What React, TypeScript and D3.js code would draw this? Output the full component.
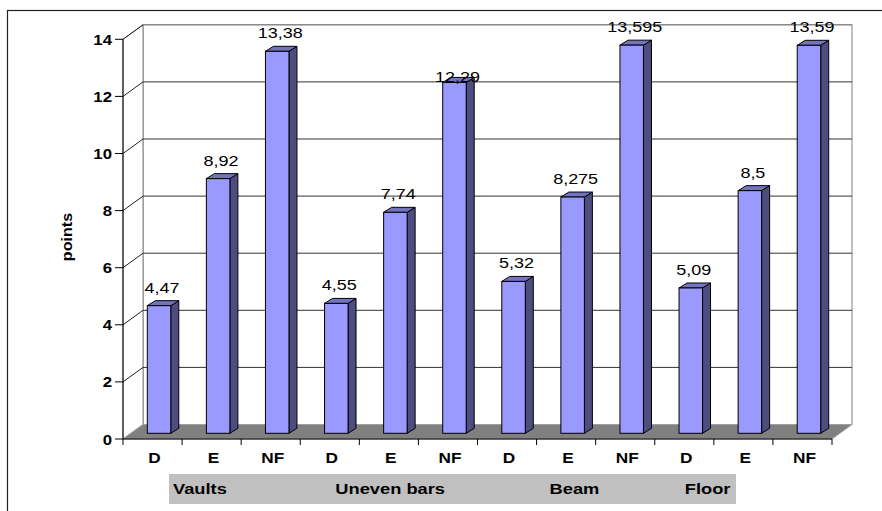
import React from "react";
import * as d3 from "d3";

// gymnastics scores by event, three score types each
const events = ["Vaults", "Uneven bars", "Beam", "Floor"];
const scoreTypes = ["D", "E", "NF"];
const vaults = [4.47, 8.92, 13.38];
const unevenBars = [4.55, 7.74, 12.29];
const beam = [5.32, 8.275, 13.595];
const floor = [5.09, 8.5, 13.59];
const yTicks = [0, 2, 4, 6, 8, 10, 12, 14];

const series = [vaults, unevenBars, beam, floor];
const bars = series.flatMap((vals, g) =>
  vals.map((v, i) => ({ key: `${g}-${i}`, event: events[g], type: scoreTypes[i], value: v }))
);

const W = 882;
const H = 511;
const FONT = "'Liberation Sans', Arial, sans-serif";

// 3d look
const DEPTH_X = 20;
const DEPTH_Y = -14.5;
const BAR_W = 23.5;
const BAR_SHIFT_X = 6.5;
const BAR_SHIFT_Y = -5.7;
const SIDE_X = 8;
const SIDE_Y = -5;

// hand placed group captions in the shaded row (as in the original sheet)
const groupLabelOffset = [50, 35, 72, 30];
const labelNudge: Record<number, number> = { 5: 13 };

const fmt = (v: number) => String(v).replace(".", ",");

function Stretched({ x, y, sx = 1.18, children, ...rest }: any) {
  return (
    <text transform={`translate(${x},${y}) scale(${sx},1)`} fontFamily={FONT} {...rest}>
      {children}
    </text>
  );
}

export default function App() {
  const x = d3
    .scaleBand<number>()
    .domain(d3.range(bars.length))
    .range([123, 832])
    .padding(0);
  const y = d3.scaleLinear().domain([0, 14]).range([439, 39.3]);

  const x0 = x.range()[0];
  const x1 = x.range()[1];
  const y0 = y(0);
  const yTop = y(14);
  const bw = x.bandwidth();

  return (
    <svg width={W} height={H} style={{ position: "absolute", left: 0, top: 0, background: "#fff" }}>
      {/* chart area border */}
      <rect x={7.5} y={10.5} width={W + 20} height={H + 20} fill="#fff" stroke="#222" strokeWidth={1.2} />

      {/* back wall */}
      <rect
        x={x0 + DEPTH_X}
        y={yTop + DEPTH_Y}
        width={x1 - x0}
        height={y0 - yTop}
        fill="#fff"
        stroke="#808080"
      />
      {/* left wall */}
      <polygon
        points={`${x0},${y0} ${x0},${yTop} ${x0 + DEPTH_X},${yTop + DEPTH_Y} ${x0 + DEPTH_X},${y0 + DEPTH_Y}`}
        fill="#fff"
        stroke="#808080"
      />
      {/* gridlines */}
      {yTicks.slice(1).map((t) => (
        <g key={t}>
          <line
            x1={x0 + DEPTH_X}
            x2={x1 + DEPTH_X}
            y1={y(t) + DEPTH_Y}
            y2={y(t) + DEPTH_Y}
            stroke={t === 14 ? "#808080" : "#333"}
          />
          <line x1={x0} y1={y(t)} x2={x0 + DEPTH_X} y2={y(t) + DEPTH_Y} stroke="#222" />
        </g>
      ))}
      {/* floor */}
      <polygon
        points={`${x0},${y0} ${x1},${y0} ${x1 + DEPTH_X},${y0 + DEPTH_Y} ${x0 + DEPTH_X},${y0 + DEPTH_Y}`}
        fill="#808080"
        stroke="#a0a0a0"
      />

      {/* axes */}
      <line x1={x0} x2={x0} y1={yTop} y2={y0} stroke="#000" />
      <line x1={x0} x2={x1} y1={y0} y2={y0} stroke="#000" />
      {yTicks.map((t) => (
        <g key={t}>
          <line x1={x0 - 8} x2={x0} y1={y(t)} y2={y(t)} stroke="#000" />
          <Stretched x={112} y={y(t) + 5.5} sx={1.12} textAnchor="end" fontSize={15} fontWeight="bold">
            {t}
          </Stretched>
        </g>
      ))}
      {d3.range(bars.length + 1).map((i) => {
        const xx = i === bars.length ? x1 : (x(i) as number);
        return <line key={i} x1={xx} x2={xx} y1={y0} y2={y0 + 6} stroke="#000" />;
      })}

      {/* bars */}
      {bars.map((d, i) => {
        const bx0 = (x(i) as number) + (bw - BAR_W) / 2 + BAR_SHIFT_X;
        const bx1 = bx0 + BAR_W;
        const yt = y(d.value) + BAR_SHIFT_Y;
        const yb = y(0) + BAR_SHIFT_Y;
        return (
          <g key={d.key} stroke="#000" strokeWidth={1}>
            <polygon
              points={`${bx1},${yt} ${bx1 + SIDE_X},${yt + SIDE_Y} ${bx1 + SIDE_X},${yb + SIDE_Y} ${bx1},${yb}`}
              fill="#4d4d80"
            />
            <polygon
              points={`${bx0},${yt} ${bx0 + SIDE_X},${yt + SIDE_Y} ${bx1 + SIDE_X},${yt + SIDE_Y} ${bx1},${yt}`}
              fill="#7373bf"
            />
            <rect x={bx0} y={yt} width={BAR_W} height={yb - yt} fill="#9999ff" />
          </g>
        );
      })}

      {/* value labels */}
      {bars.map((d, i) => {
        const cx = (x(i) as number) + bw / 2 + BAR_SHIFT_X + 3;
        const yt = y(d.value) + BAR_SHIFT_Y + SIDE_Y;
        return (
          <Stretched
            key={d.key}
            x={cx}
            y={yt - 8 + (labelNudge[i] || 0)}
            sx={1.2}
            textAnchor="middle"
            fontSize={15}
            fill="#000"
          >
            {fmt(d.value)}
          </Stretched>
        );
      })}

      {/* category labels */}
      {bars.map((d, i) => (
        <Stretched
          key={d.key}
          x={(x(i) as number) + bw / 2 + 2}
          y={463}
          sx={1.15}
          textAnchor="middle"
          fontSize={15}
          fontWeight="bold"
        >
          {d.type}
        </Stretched>
      ))}

      {/* event row */}
      <rect x={169} y={474} width={567} height={30} fill="#c0c0c0" />
      {events.map((e, g) => (
        <Stretched
          key={e}
          x={(x(g * scoreTypes.length) as number) + groupLabelOffset[g]}
          y={494}
          sx={1.22}
          fontSize={15}
          fontWeight="bold"
        >
          {e}
        </Stretched>
      ))}

      {/* y title */}
      <text
        transform={`translate(72,237) rotate(-90) scale(1.15,1)`}
        textAnchor="middle"
        fontFamily={FONT}
        fontSize={14}
        fontWeight="bold"
      >
        points
      </text>
    </svg>
  );
}
